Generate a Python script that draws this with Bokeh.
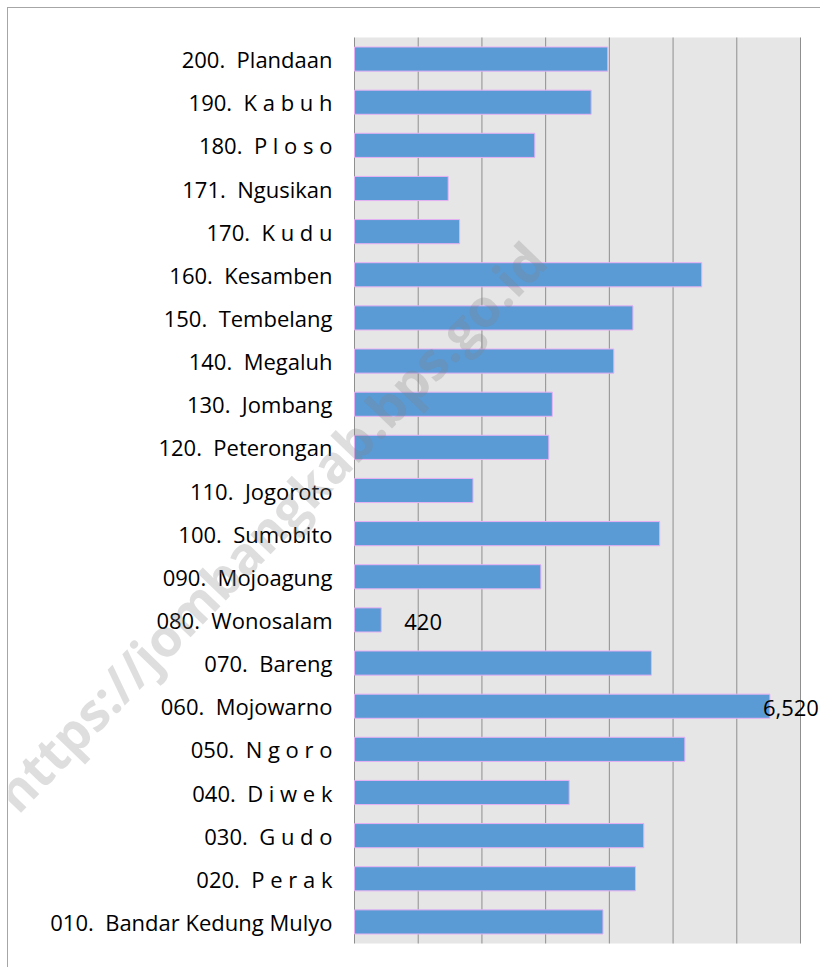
from bokeh.plotting import figure
from bokeh.models import ColumnDataSource, Range1d, Label
from bokeh.core.properties import value
from bokeh.embed import file_html
from bokeh.resources import INLINE

# ---- data (bottom to top) ----
GAP = "\u00a0\u00a0"
codes = ["010", "020", "030", "040", "050", "060", "070", "080", "090", "100", "110",
         "120", "130", "140", "150", "160", "170", "171", "180", "190", "200"]
names = ["Bandar Kedung Mulyo", "P e r a k", "G u d o", "D i w e k", "N g o r o",
         "Mojowarno", "Bareng", "Wonosalam", "Mojoagung", "Sumobito", "Jogoroto",
         "Peterongan", "Jombang", "Megaluh", "Tembelang", "Kesamben", "K u d u",
         "Ngusikan", "P l o s o", "K a b u h", "Plandaan"]
values = [3900, 4410, 4540, 3370, 5185, 6520, 4660, 420, 2925, 4790, 1860, 3050,
          3105, 4070, 4370, 5450, 1650, 1470, 2830, 3715, 3975]
x_ticks = [1000, 2000, 3000, 4000, 5000, 6000, 7000]
x_min, x_max = 0, 7000
labelled_codes = ["080", "060"]
watermark = "https://jombangkab.bps.go.id"

FONT = "Open Sans"

# ---- layout (pixels inside the 813x960 canvas) ----
W, H = 813, 960
PLOT_L, PLOT_R = 346, 792      # plot area left/right edges
PLOT_T, PLOT_B = 29, 935       # plot area top/bottom edges

n = len(codes)
ypos = list(range(n))
districts = [f"{c}.{GAP}{nm}" for c, nm in zip(codes, names)]

ux = (x_max - x_min) / (PLOT_R - PLOT_L)        # data units per pixel (x)
uy = n / (PLOT_B - PLOT_T)                      # category units per pixel (y)
x_range = Range1d(x_min - PLOT_L * ux, x_max + (W - PLOT_R) * ux)
y_range = Range1d(-0.5 - (H - PLOT_B) * uy, n - 0.5 + PLOT_T * uy)

p = figure(width=W, height=H, x_range=x_range, y_range=y_range,
           output_backend="svg", toolbar_location=None,
           x_axis_location=None, y_axis_location=None, min_border=0)
p.grid.visible = False
p.outline_line_color = None
p.background_fill_color = "white"
p.border_fill_color = "white"

# plot-area background
p.quad(left=[x_min], right=[x_max], bottom=[-0.5], top=[n - 0.5],
       fill_color="#e6e6e6", line_color=None)
# vertical gridlines and the category axis line
p.segment(x0=x_ticks, x1=x_ticks, y0=[-0.5] * len(x_ticks), y1=[n - 0.5] * len(x_ticks),
          line_color="#8f8f8f", line_width=1)
p.segment(x0=[x_min], x1=[x_min], y0=[-0.5], y1=[n - 0.5],
          line_color="#8f8f8f", line_width=1)

src = ColumnDataSource(dict(y=ypos, value=values, district=districts))
p.hbar(y="y", left=x_min, right="value", height=0.56, source=src,
       fill_color="#5b9bd5", line_color="#e8b0f4", line_width=1)

# category labels
p.text(x=x_min, y="y", text="district", source=src, x_offset=-22,
       text_align="right", text_baseline="middle",
       text_font=value(FONT), text_font_size="22px", text_color="#000000")

# data labels
lab_idx = [codes.index(c) for c in labelled_codes]
lab_src = ColumnDataSource(dict(
    y=[ypos[i] for i in lab_idx],
    value=[values[i] for i in lab_idx],
    text=[f"{values[i]:,}" for i in lab_idx],
    dx=[23, -7],
))
p.text(x="value", y="y", text="text", x_offset="dx", y_offset=2, source=lab_src,
       text_font=value(FONT), text_font_size="22px", text_color="#000000",
       text_baseline="middle", text_align="left")

# watermark
p.add_layout(Label(x=-5, y=167, x_units="screen", y_units="screen", text=watermark,
                   angle=46, angle_units="deg", text_font=FONT,
                   text_font_style="bold", text_font_size="52px",
                   text_color="#7f7f7f", text_alpha=0.26,
                   text_align="left", text_baseline="alphabetic"))

p.styles = {"margin-left": "7px", "margin-top": "7px",
            "border-top": "1px solid #a6a6a6", "border-left": "1px solid #a6a6a6"}

open("out.html", "w").write(file_html(p, INLINE))
